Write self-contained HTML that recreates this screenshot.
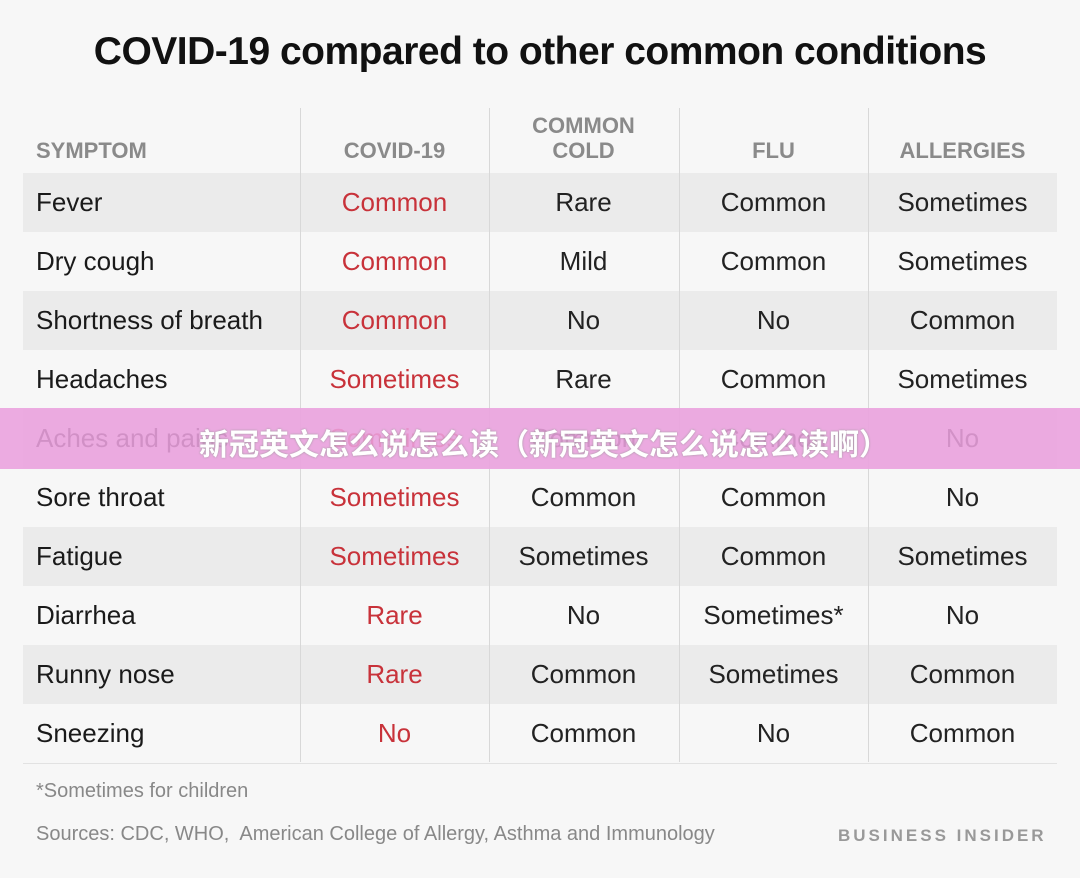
<!DOCTYPE html>
<html><head><meta charset="utf-8"><style>
body{margin:0;width:1080px;height:878px;background:#f7f7f7;font-family:"Liberation Sans","Noto Sans CJK SC",sans-serif;position:relative;overflow:hidden}
.a{position:absolute}
#title{left:0;width:1080px;top:30px;text-align:center;font-size:39px;font-weight:bold;color:#111;letter-spacing:-0.5px}
.h{font-size:22px;font-weight:bold;color:#8a8a8a;text-align:center;line-height:25px}
.row{left:23px;width:1034px;height:59px}
.cell{position:absolute;top:0;height:59px;line-height:59px;font-size:26px;color:#222;text-align:center;width:189px}
.vl{width:1px;background:#d8d8d8;top:108px;height:654px}
.red{color:#c8323a}
</style></head><body>
<div class="a" id="title">COVID-19 compared to other common conditions</div>
<div class="a h" style="left:36px;top:138px;text-align:left">SYMPTOM</div>
<div class="a h" style="left:300px;width:189px;top:138px">COVID-19</div>
<div class="a h" style="left:489px;width:189px;top:113px">COMMON<br>COLD</div>
<div class="a h" style="left:679px;width:189px;top:138px">FLU</div>
<div class="a h" style="left:868px;width:189px;top:138px">ALLERGIES</div>
<div id="rows"></div>
<div class="a vl" style="left:300px"></div>
<div class="a vl" style="left:489px"></div>
<div class="a vl" style="left:679px"></div>
<div class="a vl" style="left:868px"></div>
<div class="a" style="left:36px;top:780px;font-size:20px;color:#888">*Sometimes for children</div>
<div class="a" style="left:36px;top:823px;font-size:20px;color:#888">Sources: CDC, WHO,&nbsp; American College of Allergy, Asthma and Immunology</div>
<div class="a" style="left:838px;top:826px;font-size:17px;color:#999;letter-spacing:3px;font-weight:bold">BUSINESS INSIDER</div>
<div class="a" style="left:0;top:408px;width:1080px;height:61px;background:rgba(234,160,222,0.88)"></div>
<div class="a" style="left:0;width:1088px;top:420px;text-align:center;font-size:30px;font-weight:bold;color:#fff;font-family:'Noto Sans CJK SC',sans-serif;text-shadow:0 0 2px #999">新冠英文怎么说怎么读（新冠英文怎么说怎么读啊）</div>
<script>
const symptoms=["Fever","Dry cough","Shortness of breath","Headaches","Aches and pains","Sore throat","Fatigue","Diarrhea","Runny nose","Sneezing"];
const covid=["Common","Common","Common","Sometimes","Sometimes","Sometimes","Sometimes","Rare","Rare","No"];
const cold=["Rare","Mild","No","Rare","Common","Common","Sometimes","No","Common","Common"];
const flu=["Common","Common","No","Common","Common","Common","Common","Sometimes*","Sometimes","No"];
const allergies=["Sometimes","Sometimes","Common","Sometimes","No","No","Sometimes","No","Common","Common"];
const host=document.getElementById('rows');
symptoms.forEach((s,i)=>{
  const r=document.createElement('div');
  r.className='a row';
  
  
  r.style.top=(173+i*59)+'px';
  r.style.background=i%2===0?'#ebebeb':'#f7f7f7';
  r.style.borderBottom='1px solid #e2e2e2';
  const vals=[s,covid[i],cold[i],flu[i],allergies[i]];
  const lefts=[13,277,466,656,845];
  vals.forEach((v,j)=>{
    const c=document.createElement('div');
    c.className='cell'+(j===1?' red':'');
    
    
    c.textContent=v;
    c.style.left=lefts[j]+'px';
    if(j===0){c.style.textAlign='left';c.style.width='270px';c.style.color='#1a1a1a';}
    r.appendChild(c);
  });
  host.appendChild(r);
});
</script>
</body></html>
